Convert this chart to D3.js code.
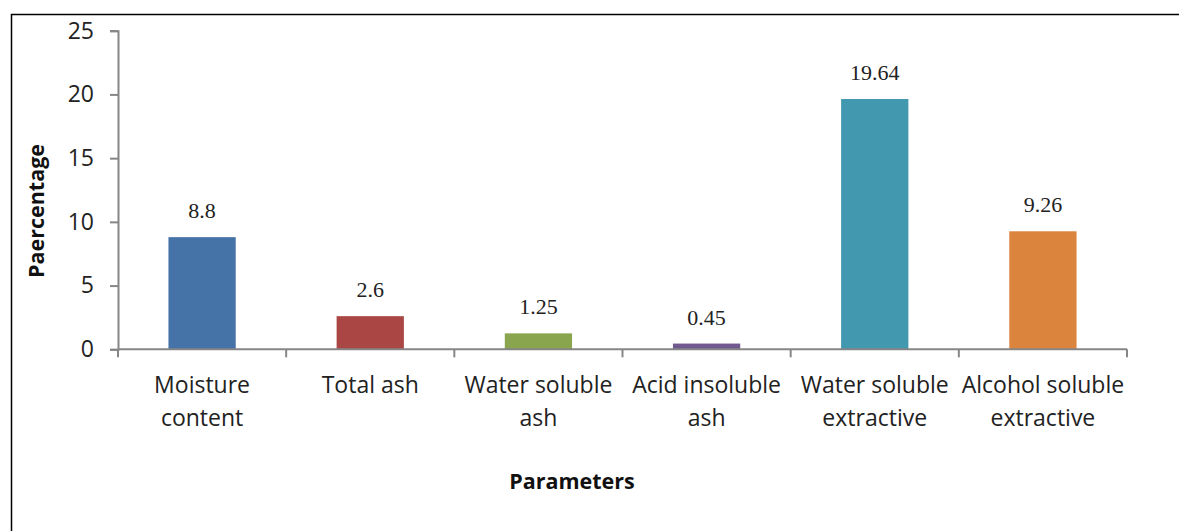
<!DOCTYPE html>
<html><head><meta charset="utf-8">
<script src="https://cdn.jsdelivr.net/npm/d3@7/dist/d3.min.js"></script>
<style>body{margin:0;background:#fff}svg{display:block}</style>
</head><body>
<script>
const categories = [["Moisture","content"],["Total ash"],["Water soluble","ash"],["Acid insoluble","ash"],["Water soluble","extractive"],["Alcohol soluble","extractive"]];
const values = [8.8, 2.6, 1.25, 0.45, 19.64, 9.26];
const valueLabels = ["8.8","2.6","1.25","0.45","19.64","9.26"];
const colors = ["#4572A7","#AA4643","#89A54E","#71588F","#4198AF","#DB843D"];
const yTicks = [0,5,10,15,20,25];

(function(){
const W = 1179, H = 531;
const svg = d3.select("body").append("svg").attr("width", W).attr("height", H);
svg.append("rect").attr("x",11.5).attr("y",14.5).attr("width",W).attr("height",H)
  .attr("fill","none").attr("stroke","#000").attr("stroke-width",1.5);

const mL = 118, mR = 1127, mT = 30.7, mB = 349.3;
const x = d3.scaleBand().domain(d3.range(values.length)).range([mL, mR]).padding(0);
const y = d3.scaleLinear().domain([0,25]).range([mB, mT]);
const barW = x.bandwidth()*0.4;
const axisColor = "#868686";
const sans = "'Open Sans', sans-serif";

// y axis
const ya = svg.append("g").attr("transform",`translate(${mL},0)`)
  .call(d3.axisLeft(y).tickValues(yTicks).tickSize(8).tickPadding(16));
ya.select(".domain").attr("stroke",axisColor).attr("stroke-width",2);
ya.selectAll(".tick line").attr("stroke",axisColor).attr("stroke-width",2);
ya.selectAll(".tick text").attr("font-family",sans).attr("font-size",23).attr("fill","#222");

// bars
svg.selectAll("rect.bar").data(values).join("rect").attr("class","bar")
  .attr("x",(d,i)=>x(i)+x.bandwidth()/2-barW/2).attr("width",barW)
  .attr("y",d=>y(d)).attr("height",d=>mB-y(d))
  .attr("fill",(d,i)=>colors[i]);

// x axis
const xa = svg.append("g").attr("transform",`translate(0,${mB})`);
xa.append("line").attr("x1",mL).attr("x2",mR).attr("stroke",axisColor).attr("stroke-width",2);
const bounds = d3.range(values.length+1).map(i => i<values.length ? x(i) : mR);
xa.selectAll("line.t").data(bounds).join("line").attr("class","t")
  .attr("x1",d=>d).attr("x2",d=>d).attr("y1",0).attr("y2",8)
  .attr("stroke",axisColor).attr("stroke-width",2);
xa.selectAll("text.c").data(categories).join("text").attr("class","c")
  .attr("font-family",sans).attr("font-size",23).attr("fill","#222")
  .attr("text-anchor","middle")
  .attr("x",(d,i)=>x(i)+x.bandwidth()/2)
  .each(function(d){
    const cx = d3.select(this).attr("x");
    d3.select(this).selectAll("tspan").data(d).join("tspan")
      .attr("x",cx).attr("y",(t,j)=>44+j*33).text(t=>t);
  });

// value labels
svg.selectAll("text.v").data(values).join("text").attr("class","v")
  .attr("font-family","'Liberation Serif', 'Times New Roman', serif").attr("font-size",22).attr("fill","#222")
  .attr("text-anchor","middle")
  .attr("x",(d,i)=>x(i)+x.bandwidth()/2).attr("y",d=>y(d)-19)
  .text((d,i)=>valueLabels[i]);

// axis titles
svg.append("text").attr("font-family",sans).attr("font-weight","bold").attr("font-size",21.5)
  .attr("fill","#111").attr("text-anchor","middle")
  .attr("transform","translate(44,211) rotate(-90)").text("Paercentage");
svg.append("text").attr("font-family",sans).attr("font-weight","bold").attr("font-size",21.5)
  .attr("fill","#111").attr("text-anchor","middle")
  .attr("x",572).attr("y",489).text("Parameters");
})();
</script>
</body></html>
